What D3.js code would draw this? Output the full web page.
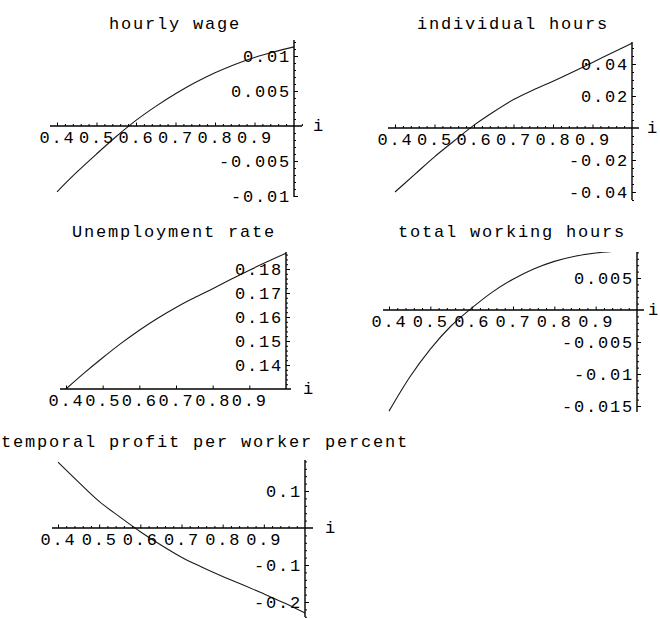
<!DOCTYPE html>
<html>
<head>
<meta charset="utf-8">
<script src="https://cdn.jsdelivr.net/npm/d3@7/dist/d3.min.js"></script>
<style>
  html, body { margin: 0; padding: 0; background: #fff; }
  svg { display: block; }
  text { font-family: "Liberation Mono", "Courier New", monospace; fill: #000; }
</style>
</head>
<body>
<svg id="chart" width="660" height="619"></svg>
<script>
// Horizontal parameter i, sampled every 0.05
const iValues = [0.40, 0.45, 0.50, 0.55, 0.60, 0.65, 0.70, 0.75, 0.80, 0.85, 0.90, 0.95, 1.00];

// Series (change relative to the reference point)
const hourlyWage        = [-0.0094, -0.0066, -0.0040, -0.0015, 0.0008, 0.0028, 0.0046, 0.0062, 0.0076, 0.0088, 0.0098, 0.0106, 0.0113];
const individualHours   = [-0.0400, -0.0290, -0.0180, -0.0080, 0.0018, 0.0102, 0.0178, 0.0238, 0.0292, 0.0350, 0.0410, 0.0470, 0.0530];
const unemploymentRate  = [0.1300, 0.1367, 0.1430, 0.1490, 0.1545, 0.1595, 0.1640, 0.1680, 0.1718, 0.1757, 0.1795, 0.1831, 0.1866];
const totalWorkingHours = [-0.0158, -0.0105, -0.0061, -0.0025, 0.0003, 0.0028, 0.0048, 0.0064, 0.0076, 0.0084, 0.0089, 0.0092, 0.0094];
const profitPerWorker   = [0.178, 0.124, 0.072, 0.030, -0.010, -0.046, -0.079, -0.106, -0.131, -0.154, -0.178, -0.203, -0.230];

// Tick values and their labels
const xTicks = [0.4, 0.5, 0.6, 0.7, 0.8, 0.9];
const xTickLabels = ["0.4", "0.5", "0.6", "0.7", "0.8", "0.9"];
const wageTicks = [0.01, 0.005, -0.005, -0.01];
const wageTickLabels = ["0.01", "0.005", "-0.005", "-0.01"];
const hoursTicks = [0.04, 0.02, -0.02, -0.04];
const hoursTickLabels = ["0.04", "0.02", "-0.02", "-0.04"];
const unempTicks = [0.18, 0.17, 0.16, 0.15, 0.14];
const unempTickLabels = ["0.18", "0.17", "0.16", "0.15", "0.14"];
const totalTicks = [0.005, -0.005, -0.01, -0.015];
const totalTickLabels = ["0.005", "-0.005", "-0.01", "-0.015"];
const profitTicks = [0.1, -0.1, -0.2];
const profitTickLabels = ["0.1", "-0.1", "-0.2"];

const titles = ["hourly wage", "individual hours", "Unemployment rate", "total working hours",
                "temporal profit per worker percent"];
const axisName = "i";

// Layout of each panel: pixel anchors for the scales, axis extents and title placement
const panels = [
  { title: titles[0], values: hourlyWage, yTicks: wageTicks, yLabels: wageTickLabels, yMinor: 0.001, xMinor: true,
    xPx: [57, 294], xAxisPx: [50, 302], yDom: [0, 0.01], yPx: [126, 56], yAxisPx: [40, 197], xAxisAt: 0,
    titleX: 175, titleY: 29, titleAnchor: "middle", nameX: 318 },
  { title: titles[1], values: individualHours, yTicks: hoursTicks, yLabels: hoursTickLabels, yMinor: 0.005, xMinor: true,
    xPx: [395, 632], xAxisPx: [388, 639], yDom: [0, 0.04], yPx: [128, 64], yAxisPx: [42, 200], xAxisAt: 0,
    titleX: 513, titleY: 29, titleAnchor: "middle", nameX: 652 },
  { title: titles[2], values: unemploymentRate, yTicks: unempTicks, yLabels: unempTickLabels, yMinor: 0.002, xMinor: false,
    xPx: [66, 286], xAxisPx: [60, 291], yDom: [0.13, 0.18], yPx: [389, 269], yAxisPx: [252, 389], xAxisAt: 0.13,
    titleX: 174, titleY: 237, titleAnchor: "middle", nameX: 308 },
  { title: titles[3], values: totalWorkingHours, yTicks: totalTicks, yLabels: totalTickLabels, yMinor: 0.001, xMinor: true,
    xPx: [389, 637], xAxisPx: [383, 644], yDom: [0, 0.005], yPx: [310, 278], yAxisPx: [252, 412], xAxisAt: 0,
    titleX: 512, titleY: 237, titleAnchor: "middle", nameX: 653 },
  { title: titles[4], values: profitPerWorker, yTicks: profitTicks, yLabels: profitTickLabels, yMinor: 0.02, xMinor: true,
    xPx: [58, 305], xAxisPx: [52, 313], yDom: [0, 0.1], yPx: [528, 491], yAxisPx: [460, 617], xAxisAt: 0,
    titleX: 1, titleY: 447, titleAnchor: "start", nameX: 330 }
];

const FONT = 17;
const svg = d3.select("#chart");

function styleAxis(g) {
  g.select(".domain").remove();
  g.selectAll("line").attr("stroke", "#000").attr("stroke-width", 1);
  g.selectAll("text")
    .attr("font-family", "Liberation Mono, Courier New, monospace")
    .attr("font-size", FONT)
    .attr("letter-spacing", "1.8px")
    .attr("fill", "#000");
}

panels.forEach((p, k) => {
  const g = svg.append("g").attr("class", "panel");

  const x = d3.scaleLinear().domain([0.4, 1.0]).range(p.xPx);
  const y = d3.scaleLinear().domain(p.yDom).range(p.yPx);

  const xLo = x.invert(p.xAxisPx[0]), xHi = x.invert(p.xAxisPx[1]);
  const yHi = y.invert(p.yAxisPx[0]), yLo = y.invert(p.yAxisPx[1]);
  const yAxisX = x(1.0);
  const xAxisY = y(p.xAxisAt);

  // clip the curve to the plotted range
  const clipId = "clip" + k;
  g.append("clipPath").attr("id", clipId)
    .append("rect")
    .attr("x", p.xAxisPx[0]).attr("y", p.yAxisPx[0])
    .attr("width", p.xAxisPx[1] - p.xAxisPx[0])
    .attr("height", p.yAxisPx[1] - p.yAxisPx[0]);

  // curve
  const line = d3.line()
    .x((d, j) => x(iValues[j]))
    .y(d => y(d))
    .curve(d3.curveMonotoneX);
  g.append("path")
    .datum(p.values)
    .attr("clip-path", `url(#${clipId})`)
    .attr("fill", "none")
    .attr("stroke", "#1a1a1a")
    .attr("stroke-width", 1.1)
    .attr("d", line);

  // horizontal axis: minor ticks, major ticks pointing up, labels below
  if (p.xMinor) {
    const minors = d3.range(Math.ceil(xLo / 0.02), Math.floor(xHi / 0.02) + 1)
      .map(n => +(n * 0.02).toFixed(4))
      .filter(v => Math.abs(v * 10 - Math.round(v * 10)) > 1e-6);
    g.append("g").attr("transform", `translate(0,${xAxisY})`)
      .call(d3.axisBottom(x).tickValues(minors).tickSize(-2).tickFormat(""))
      .call(styleAxis);
  }
  g.append("g").attr("transform", `translate(0,${xAxisY})`)
    .call(d3.axisBottom(x).tickValues(xTicks).tickSize(-3.5).tickPadding(4.5)
      .tickFormat((d, j) => xTickLabels[j]))
    .call(styleAxis);

  // vertical axis at i = 1: minor ticks, major ticks pointing right, labels left
  const nLo = Math.ceil(yLo / p.yMinor - 1e-9), nHi = Math.floor(yHi / p.yMinor + 1e-9);
  const yMinors = d3.range(nLo, nHi + 1).map(n => +(n * p.yMinor).toFixed(6))
    .filter(v => !p.yTicks.some(t => Math.abs(t - v) < 1e-9) && Math.abs(v - p.xAxisAt) > 1e-9);
  g.append("g").attr("transform", `translate(${yAxisX},0)`)
    .call(d3.axisLeft(y).tickValues(yMinors).tickSize(-2).tickFormat(""))
    .call(styleAxis);
  g.append("g").attr("transform", `translate(${yAxisX},0)`)
    .call(d3.axisLeft(y).tickValues(p.yTicks).tickSize(-4).tickPadding(3)
      .tickFormat((d, j) => p.yLabels[j]))
    .call(styleAxis);

  // axis lines
  g.append("line")
    .attr("x1", p.xAxisPx[0]).attr("x2", p.xAxisPx[1])
    .attr("y1", xAxisY).attr("y2", xAxisY)
    .attr("stroke", "#000").attr("stroke-width", 1.4);
  g.append("line")
    .attr("x1", yAxisX).attr("x2", yAxisX)
    .attr("y1", p.yAxisPx[0]).attr("y2", p.yAxisPx[1])
    .attr("stroke", "#000").attr("stroke-width", 1.4);

  // axis name
  g.append("text")
    .attr("x", p.nameX).attr("y", xAxisY)
    .attr("dy", "0.32em")
    .attr("text-anchor", "middle")
    .attr("font-size", FONT)
    .text(axisName);

  // title
  g.append("text")
    .attr("x", p.titleX).attr("y", p.titleY)
    .attr("text-anchor", p.titleAnchor)
    .attr("font-size", FONT)
    .attr("letter-spacing", "1.8px")
    .text(p.title);
});
</script>
</body>
</html>
